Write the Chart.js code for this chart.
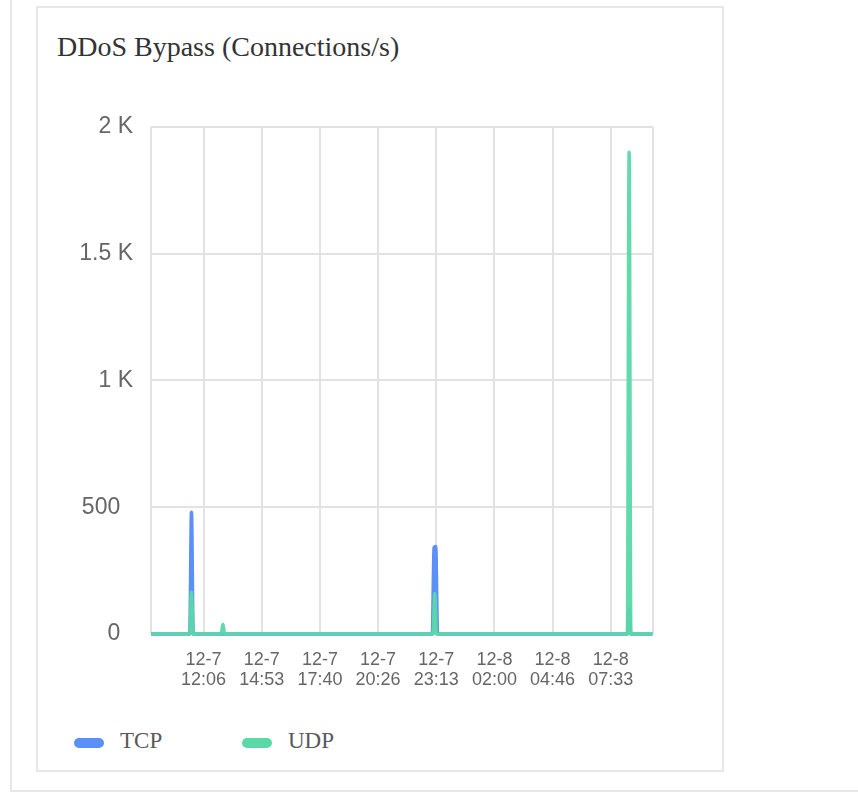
<!DOCTYPE html>
<html>
<head>
<meta charset="utf-8">
<script src="https://cdn.jsdelivr.net/npm/chart.js@4.4.0/dist/chart.umd.min.js"></script>
<style>
  body { margin: 0; background: #fff; width: 858px; height: 794px; position: relative; overflow: hidden; }
  .outer { position: absolute; left: 10px; top: 0; right: 0; height: 790px; border-left: 2px solid #e8e8ec; border-bottom: 2px solid #e8e8ec; }
  .card { position: absolute; left: 36px; top: 6px; width: 684px; height: 762px; border: 2px solid #e8e8ec; background: #fff; }
  .title { position: absolute; left: 57px; top: 33px; font: 28px/28px "Liberation Serif", "Times New Roman", serif; color: #333; white-space: nowrap; }
  #chart { position: absolute; left: 38px; top: 95px; }
  .legend-item { position: absolute; top: 729px; font: 23px/23px "Liberation Serif", "Times New Roman", serif; color: #595959; white-space: nowrap; }
  .legend-item .pill { position: absolute; left: 0; top: 9px; width: 30px; height: 10px; border-radius: 5px; }
  .legend-item span.txt { position: absolute; left: 46px; top: 0; }
</style>
</head>
<body>
<div class="outer"></div>
<div class="card"></div>
<div class="title">DDoS Bypass (Connections/s)</div>
<canvas id="chart" width="680" height="599"></canvas>
<div id="legend"></div>
<script>
// x values are minutes since 12-7 00:00
const xRange = [576, 2013];
const xTickValues = [726.67, 893.33, 1060, 1226.67, 1393.33, 1560, 1726.67, 1893.33];
const xTickLabels = [
    ['12-7', '12:06'], ['12-7', '14:53'], ['12-7', '17:40'], ['12-7', '20:26'],
    ['12-7', '23:13'], ['12-8', '02:00'], ['12-8', '04:46'], ['12-8', '07:33']
];
const yTickValues = [0, 500, 1000, 1500, 2000];
const yTickLabels = ['0', '500', '1 K', '1.5 K', '2 K'];

const seriesNames = ['TCP', 'UDP'];
const seriesColors = ['#5B8FF9', '#5AD8A6'];

const tcpX = [576, 687, 692, 697, 1382, 1387, 1392, 1397, 1941, 1946, 1951, 2013];
const tcpY = [0, 0, 480, 0, 0, 340, 345, 0, 0, 100, 0, 0];
const udpX = [576, 687, 692, 697, 777, 782, 787, 1384, 1389, 1394, 1941, 1946, 1951, 2013];
const udpY = [0, 0, 165, 0, 0, 38, 0, 0, 160, 0, 0, 1900, 0, 0];

const toPoints = (xs, ys) => xs.map((x, i) => ({ x: x, y: ys[i] }));

// legend (html)
const legendEl = document.getElementById('legend');
const legendLeft = [74, 242];
seriesNames.forEach((name, i) => {
    const item = document.createElement('div');
    item.className = 'legend-item';
    item.style.left = legendLeft[i] + 'px';
    item.innerHTML = `<div class="pill" style="background:${seriesColors[i]}"></div><span class="txt">${name}</span>`;
    legendEl.appendChild(item);
});

const gridColor = '#e2e2e2';
const tickFont = { family: '"Liberation Sans", Arial, sans-serif' };

new Chart(document.getElementById('chart').getContext('2d'), {
    type: 'line',
    data: {
        datasets: [
            {
                label: seriesNames[0],
                data: toPoints(tcpX, tcpY),
                borderColor: seriesColors[0],
                backgroundColor: seriesColors[0],
                borderWidth: 3.5,
                pointRadius: 0,
                cubicInterpolationMode: 'monotone',
                clip: 3,
                order: 1
            },
            {
                label: seriesNames[1],
                data: toPoints(udpX, udpY),
                borderColor: 'rgba(90, 216, 166, 0.95)',
                backgroundColor: seriesColors[1],
                borderWidth: 3.5,
                pointRadius: 0,
                cubicInterpolationMode: 'monotone',
                clip: 3,
                order: 0
            }
        ]
    },
    options: {
        responsive: false,
        animation: false,
        devicePixelRatio: 1,
        layout: { padding: { left: 0, right: 65.5, top: 31, bottom: 0 } },
        plugins: {
            legend: { display: false },
            tooltip: { enabled: false }
        },
        scales: {
            x: {
                type: 'linear',
                min: xRange[0],
                max: xRange[1],
                border: { display: false },
                grid: { color: gridColor, lineWidth: 2, drawTicks: false },
                afterBuildTicks: (scale) => {
                    scale.ticks = [xRange[0], ...xTickValues, xRange[1]].map(v => ({ value: v }));
                },
                afterFit: (scale) => { scale.height = 60; },
                ticks: {
                    autoSkip: false,
                    maxRotation: 0,
                    padding: 16,
                    color: '#666',
                    font: { ...tickFont, size: 18, lineHeight: 1.1 },
                    callback: (value, index) => (index > 0 && index <= xTickLabels.length) ? xTickLabels[index - 1] : ''
                }
            },
            y: {
                min: 0,
                max: 2000,
                border: { display: false },
                grid: { color: gridColor, lineWidth: 2, drawTicks: false },
                afterBuildTicks: (scale) => {
                    scale.ticks = yTickValues.map(v => ({ value: v }));
                },
                afterFit: (scale) => { scale.width = 113; },
                ticks: {
                    padding: 18,
                    color: '#666',
                    font: { ...tickFont, size: 23 },
                    callback: (value, index) => {
                        const t = yTickLabels[index];
                        return t.endsWith('K') ? t : t + '\u2007';
                    }
                }
            }
        }
    }
});
</script>
</body>
</html>
